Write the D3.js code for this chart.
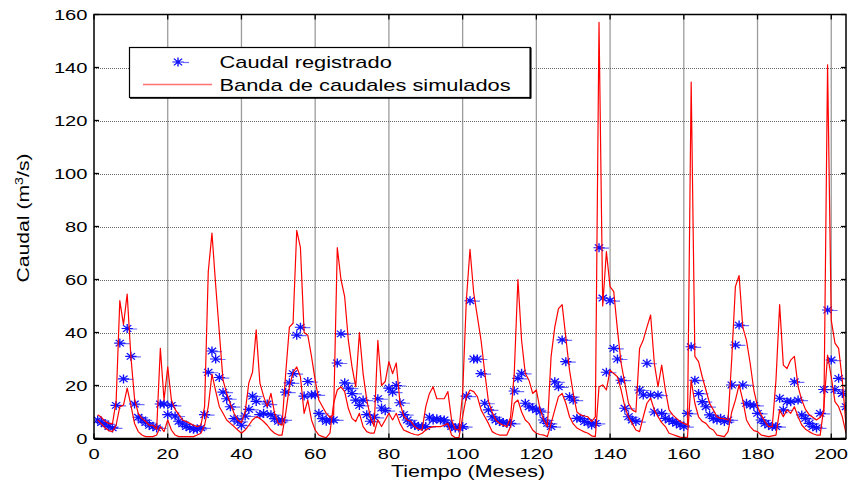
<!DOCTYPE html>
<html>
<head>
<meta charset="utf-8">
<script src="https://cdn.jsdelivr.net/npm/d3@7"></script>
<style>
  html, body { margin: 0; padding: 0; background: #fff; }
  svg { display: block; }
  text { font-family: "Liberation Sans", Arial, Helvetica, sans-serif; fill: #000; }
</style>
</head>
<body>
<svg id="chart" width="851" height="487"></svg>
<script>
// Monthly flows, months 1..204
const months = d3.range(1, 205);

const caudalRegistrado = [
  7, 6, 5.5, 4.5, 4, 12.5, 36, 22.5, 41.5, 31,
  13, 8, 7, 6, 5, 4.5, 4, 13, 13, 9,
  12.5, 8.5, 6.5, 5.5, 4.5, 4, 3.5, 3.5, 4, 9,
  25, 33, 30, 23, 17.5, 15, 12, 7.5, 6.5, 5,
  8.5, 11, 16, 14, 9, 9.5, 13, 9, 7.5, 6.5,
  7, 17.5, 21, 24.5, 39, 42, 16, 21.5, 16.5, 16.5,
  9.5, 7.5, 6.5, 7, 7, 28.5, 39.5, 21, 19, 17,
  14.5, 12.5, 14.5, 9, 6.5, 8, 15, 11.5, 10.5, 19,
  17.5, 20, 13.5, 9, 7, 5.5, 5, 4.5, 4.5, 4.5,
  8, 7, 7.5, 7, 7, 5.5, 4.5, 4, 4, 4.5,
  16, 52, 30, 30, 24.5, 13.3, 10.8, 8.2, 7, 6.4,
  6, 5.7, 5.7, 17.9, 22.7, 24.6, 13.3, 12, 11.5, 10.8,
  10.1, 7, 5.7, 4.5, 21.4, 19.5, 37.2, 29, 15.8, 14.5,
  7.6, 7.6, 6.4, 6, 5.1, 5.7, 72, 53, 25, 52,
  34, 30, 22, 11.4, 8.2, 7, 6.4, 18.3, 16.4, 28.4,
  16.4, 10, 16.4, 9.5, 7.6, 7, 6.4, 5.7, 5.1, 4.5,
  9.5, 34.6, 22, 17, 13.9, 12, 8.9, 7.6, 7, 7.6,
  6.4, 7, 20.2, 35.3, 42.8, 20.2, 13.3, 12.6, 12.5, 9.5,
  7, 5.7, 5.1, 4.5, 4.5, 15.2, 10.8, 13.9, 13.9, 21.4,
  14.5, 8.9, 7.6, 5.7, 4.5, 4, 9.5, 18.5, 48.5, 29.6,
  18.5, 22.7, 17, 12
];

// Upper limit of the simulated flow band
const bandaSuperior = [
  9, 8, 6.5, 5.7, 5.5, 14, 52, 43, 54.5, 31,
  15, 9.5, 7.6, 6.4, 5, 5, 3.5, 34, 14.5, 27,
  14.5, 11, 9, 7, 6.4, 5.7, 5, 4.5, 5, 12,
  63, 77.5, 58, 40, 22, 17, 13, 9.5, 7, 6,
  10, 21, 25, 41, 21, 16, 12, 17, 9.5, 5.7,
  5, 24.5, 42, 43.5, 78.5, 72, 40, 39, 31, 22,
  14.5, 12, 9.5, 8, 9, 72, 60, 53.5, 37, 27,
  19.5, 40, 24.5, 14.5, 8, 4.5, 37, 20, 21.5, 29,
  24.5, 28.5, 13.5, 8.5, 7, 6.4, 4.5, 3.5, 3.2, 12,
  17, 19.5, 15, 15, 15, 17.7, 7, 3.5, 3.2, 17,
  52, 71.4, 55, 46, 37, 25, 14, 10, 7, 5.7,
  5, 4.5, 8, 24.5, 60, 37, 24.5, 22, 17, 18.3,
  11, 7, 4.5, 31, 42, 49, 50.5, 38, 25.8, 17,
  10, 8.9, 8.5, 8.2, 6.4, 8.2, 157, 50, 70.5, 57.3,
  55.4, 41, 28.4, 20.8, 13.3, 10.8, 10, 34, 37.2, 42,
  46.6, 28.4, 19.6, 27.7, 18.3, 10.8, 8.9, 7.6, 6.4, 5.7,
  5.1, 134.5, 31, 29, 23.3, 18.3, 13.3, 10.8, 8.2, 7.6,
  7.5, 7, 30, 57.3, 61.5, 42, 37, 28.4, 18.3, 12,
  8.9, 6.4, 4.5, 4.5, 22, 50.5, 27.7, 26.4, 29.6, 31,
  19.6, 14.5, 11, 9, 8, 7, 8, 10, 141, 44.7,
  36, 34, 22, 5
];

// Lower limit of the simulated flow band
const bandaInferior = [
  7, 5.5, 4, 3, 2.6, 5, 12, 12.6, 19, 12.6,
  5.7, 2.6, 1.3, 0.7, 0.7, 0.7, 1.3, 4.5, 2.6, 7,
  3.2, 1.3, 0.7, 0.7, 0.7, 0.7, 0.7, 1.3, 2, 5,
  12, 24.3, 18, 12, 9.5, 7, 5.7, 4.5, 3.2, 2,
  3.2, 5, 7, 8.2, 7.6, 6.4, 5, 3.2, 2, 1.3,
  1.3, 9.5, 19.5, 25, 27, 23.3, 9.5, 14.5, 7, 3.2,
  1.3, 0.7, 0.3, 2, 13.3, 18.3, 19.5, 17.7, 11.3, 7.6,
  6.4, 9.5, 4.5, 2.6, 2, 2, 7, 4.5, 7, 9.5,
  7, 9.5, 5.7, 3.2, 2.6, 2, 1.5, 1.3, 2, 3.2,
  4, 4.5, 4.5, 4.5, 5, 5.7, 1.3, 0.3, 0.3, 8.2,
  15.8, 18.3, 17.7, 15.8, 10.8, 8.2, 5.7, 2.6, 1.8, 1.3,
  1.3, 1.3, 4.5, 13.3, 14.5, 10, 7, 5.7, 3.2, 2,
  1.5, 1.3, 0.7, 5.7, 10.8, 15.8, 17, 13.3, 8.2, 5.5,
  4, 3.2, 2.5, 2, 1, 0.7, 19.5, 20.2, 18.3, 25.8,
  24.5, 23.3, 18.3, 12, 8, 5.7, 3.2, 2.6, 8.2, 13.3,
  15.2, 10.8, 8.2, 6, 4.5, 2, 1.5, 1, 0.5, 0.3,
  0.5, 22, 13.3, 8.2, 6.5, 5.7, 4, 3.2, 1.3, 1,
  0.7, 2.6, 10, 14.5, 20.2, 14.5, 7, 4.5, 3, 2.6,
  1.3, 1, 0.7, 1, 1.3, 10.8, 8.2, 10.8, 9.5, 12,
  8.2, 5.1, 3.5, 2.6, 1.8, 1.3, 1.3, 12, 31.5, 23.3,
  13.9, 12, 8.2, 2
];

const xTicks = [0, 20, 40, 60, 80, 100, 120, 140, 160, 180, 200];
const yTicks = [0, 20, 40, 60, 80, 100, 120, 140, 160];
const legendLabels = ["Caudal registrado", "Banda de caudales simulados"];

const svg = d3.select("#chart");
const plot = { left: 94, right: 846, top: 14.5, bottom: 438.5 };
const TX = 1.3; // horizontal stretch of the lettering

const x = d3.scaleLinear().domain([0, 204]).range([plot.left, plot.right]);
const y = d3.scaleLinear().domain([0, 160]).range([plot.bottom, plot.top]);

function label(parent, px, py, str, anchor, size) {
  return parent.append("text")
    .attr("transform", `translate(${px},${py}) scale(${TX},1)`)
    .attr("text-anchor", anchor)
    .attr("font-size", size)
    .text(str);
}

// grid
const grid = svg.append("g");
grid.selectAll("line.v").data(xTicks.filter(d => d > 0)).join("line")
  .attr("x1", d => x(d)).attr("x2", d => x(d))
  .attr("y1", plot.top).attr("y2", plot.bottom)
  .attr("stroke", "#9c9c9c").attr("stroke-width", 1.3);
grid.selectAll("line.h").data(yTicks.filter(d => d > 0 && d < 160)).join("line")
  .attr("x1", plot.left).attr("x2", plot.right)
  .attr("y1", d => Math.round(y(d)) + 0.5).attr("y2", d => Math.round(y(d)) + 0.5)
  .attr("stroke", "#666").attr("stroke-width", 1)
  .attr("stroke-dasharray", "1,1");

// clip region for marks
svg.append("clipPath").attr("id", "clip").append("rect")
  .attr("x", plot.left).attr("y", plot.top)
  .attr("width", plot.right - plot.left).attr("height", plot.bottom - plot.top);

const marks = svg.append("g").attr("clip-path", "url(#clip)");

// observed flow markers (asterisks)
const starPath = "M-4.5,0H4.5M0,-4.5V4.5M-3.3,-3.3L3.3,3.3M-3.3,3.3L3.3,-3.3";
const obs = months.map((m, i) => ({ m, v: caudalRegistrado[i] }));
const starG = marks.append("g");
starG.selectAll("path.tail").data(obs).join("path")
  .attr("transform", d => `translate(${x(d.m)},${y(d.v)})`)
  .attr("d", "M2,0.5H10")
  .attr("stroke", "#6f6fff").attr("stroke-width", 1.2).attr("fill", "none");
starG.selectAll("path.star").data(obs).join("path")
  .attr("transform", d => `translate(${x(d.m)},${y(d.v)}) scale(1.25,1)`)
  .attr("d", starPath)
  .attr("stroke", "#1010ff").attr("stroke-width", 1.1).attr("fill", "none");

// simulated flow band
const line = d3.line().x((d, i) => x(months[i])).y(d => y(d));
[bandaSuperior, bandaInferior].forEach(series => {
  marks.append("path")
    .datum(series)
    .attr("d", line)
    .attr("fill", "none")
    .attr("stroke", "#ff0000")
    .attr("stroke-width", 1.2)
    .attr("stroke-linejoin", "round");
});

// axes box and inward ticks
const axes = svg.append("g");
axes.append("rect")
  .attr("x", plot.left).attr("y", plot.top)
  .attr("width", plot.right - plot.left).attr("height", plot.bottom - plot.top)
  .attr("fill", "none").attr("stroke", "#000").attr("stroke-width", 1.5);
axes.append("line")
  .attr("x1", plot.left).attr("x2", plot.right)
  .attr("y1", plot.bottom + 0.5).attr("y2", plot.bottom + 0.5)
  .attr("stroke", "#000").attr("stroke-width", 2);

const tl = 5;
axes.selectAll("line.yl").data(yTicks).join("line")
  .attr("x1", plot.left).attr("x2", plot.left + tl)
  .attr("y1", d => y(d)).attr("y2", d => y(d))
  .attr("stroke", "#000").attr("stroke-width", 1.3);
axes.selectAll("line.yr").data(yTicks).join("line")
  .attr("x1", plot.right).attr("x2", plot.right - tl)
  .attr("y1", d => y(d)).attr("y2", d => y(d))
  .attr("stroke", "#000").attr("stroke-width", 1.3);
axes.selectAll("line.xb").data(xTicks).join("line")
  .attr("x1", d => x(d)).attr("x2", d => x(d))
  .attr("y1", plot.bottom).attr("y2", plot.bottom - tl)
  .attr("stroke", "#000").attr("stroke-width", 1.3);
axes.selectAll("line.xt").data(xTicks).join("line")
  .attr("x1", d => x(d)).attr("x2", d => x(d))
  .attr("y1", plot.top).attr("y2", plot.top + tl)
  .attr("stroke", "#000").attr("stroke-width", 1.3);

// tick labels
yTicks.forEach(t => label(svg, 87.5, y(t) + 5.5, String(t), "end", 15.5));
xTicks.forEach(t => label(svg, x(t), 458.5, String(t), "middle", 15.5));

// axis titles
svg.append("text")
  .attr("font-size", 16.5)
  .attr("font-family", "Liberation Sans, Arial, sans-serif")
  .text("Tiempo (Meses)")
  .attr("text-anchor", "middle")
  .attr("transform", `translate(468,476.5) scale(${TX},1)`);

const yl = svg.append("text")
  .attr("font-size", 16.3)
  .attr("text-anchor", "middle")
  .attr("transform", `translate(28.5,218) rotate(-90) scale(${TX},1)`);
yl.append("tspan").text("Caudal (m");
yl.append("tspan").attr("font-size", 11).attr("dy", -6).text("3");
yl.append("tspan").attr("dy", 6).text("/s)");

// legend
const lg = svg.append("g");
lg.append("rect")
  .attr("x", 129.5).attr("y", 47.5).attr("width", 401).attr("height", 50)
  .attr("fill", "#fff").attr("stroke", "#000").attr("stroke-width", 1.2);
lg.append("line")
  .attr("x1", 530.5).attr("x2", 530.5).attr("y1", 48).attr("y2", 98.5)
  .attr("stroke", "#000").attr("stroke-width", 2);
lg.append("line")
  .attr("x1", 130).attr("x2", 531).attr("y1", 98).attr("y2", 98)
  .attr("stroke", "#000").attr("stroke-width", 1.5);
lg.append("path")
  .attr("transform", "translate(181,62)")
  .attr("d", "M2,0.5H8").attr("stroke", "#6f6fff").attr("stroke-width", 1.2);
lg.append("path")
  .attr("transform", "translate(178,62) scale(1.25,1)")
  .attr("d", starPath).attr("stroke", "#1010ff").attr("stroke-width", 1.1).attr("fill", "none");
lg.append("line")
  .attr("x1", 143).attr("x2", 212).attr("y1", 84.5).attr("y2", 84.5)
  .attr("stroke", "#ff7070").attr("stroke-width", 1.5);
label(lg, 219.5, 67.7, legendLabels[0], "start", 16.8);
label(lg, 219.5, 91, legendLabels[1], "start", 16.8);
</script>
</body>
</html>
